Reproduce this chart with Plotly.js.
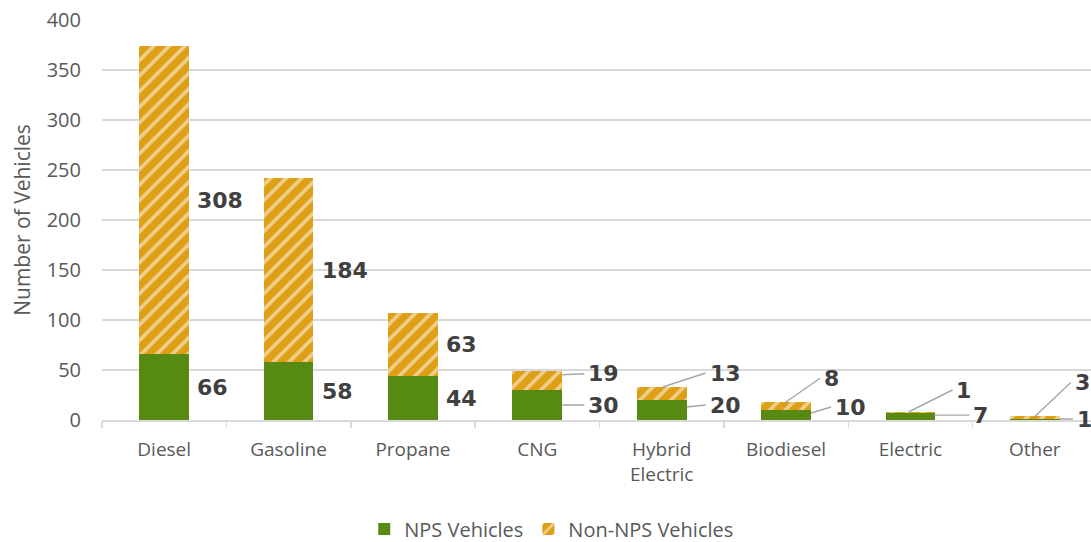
<!DOCTYPE html>
<html>
<head>
<meta charset="utf-8">
<script src="https://cdn.plot.ly/plotly-3.0.1.min.js"></script>
<style>
html,body{margin:0;padding:0;overflow:hidden;background:#fff;}
#chart{width:1097px;height:542px;}
</style>
</head>
<body>
<div id="chart"></div>
<script>
// ---- data ----
const categories = ['Diesel', 'Gasoline', 'Propane', 'CNG', 'Hybrid<br>Electric', 'Biodiesel', 'Electric', 'Other'];
const npsVehicles = [66, 58, 44, 30, 20, 10, 7, 1];
const nonNpsVehicles = [308, 184, 63, 19, 13, 8, 1, 3];
const seriesNames = ['NPS Vehicles', 'Non-NPS Vehicles'];
const yTicks = [0, 50, 100, 150, 200, 250, 300, 350, 400];

// ---- styling ----
const GREEN = '#568A12';
const ORANGE = '#DE9E16';
const GRID = '#D9D9D9';
const TXT = '#595959';
const LBL = '#404040';
const labelFont = {family: 'DejaVu Sans, sans-serif', size: 22, color: LBL, weight: 'bold'};

// leader-line placement for the small labels (pixel offsets only)
// key: categoryIndex + '-' + series (0 = NPS, 1 = Non-NPS)
const leaders = {
  '3-1': {tipFrac: 0.8, tipShift: 25, ax: 22, ay: -1},
  '3-0': {tipFrac: 0.5, tipShift: 25, ax: 22, ay: 0},
  '4-1': {tipFrac: 1.0, tipShift: 1, ax: 43, ay: -14},
  '4-0': {tipFrac: 0.65, tipShift: 25, ax: 19, ay: -2},
  '5-1': {tipFrac: 0.85, tipShift: -2, ax: 36, ay: -25},
  '5-0': {tipFrac: 0.7, tipShift: 25, ax: 20, ay: -6},
  '6-1': {tipFrac: 1.0, tipShift: -2, ax: 44, ay: -22},
  '6-0': {tipFrac: 0.7, tipShift: 24, ax: 35, ay: 0},
  '7-1': {tipFrac: 0.8, tipShift: 0, ax: 36, ay: -34},
  '7-0': {tipFrac: 1.0, tipShift: 25, ax: 13, ay: 0}
};

const traces = [
  {
    type: 'bar', name: seriesNames[0], x: categories, y: npsVehicles,
    marker: {color: GREEN, line: {width: 0}},
    hoverinfo: 'skip'
  },
  {
    type: 'bar', name: seriesNames[1], x: categories, y: nonNpsVehicles,
    marker: {color: ORANGE, line: {width: 0},
      pattern: {shape: '/', fgcolor: '#FFFFFF', bgcolor: ORANGE, size: 11, solidity: 0.33, fillmode: 'overlay'}},
    hoverinfo: 'skip'
  }
];

const annotations = [];
categories.forEach((c, i) => {
  const segs = [
    {base: 0, v: npsVehicles[i]},
    {base: npsVehicles[i], v: nonNpsVehicles[i]}
  ];
  segs.forEach((s, k) => {
    const key = i + '-' + k;
    const L = leaders[key];
    if (L) {
      annotations.push({
        x: c, y: s.base + s.v * L.tipFrac, xref: 'x', yref: 'y',
        xshift: L.tipShift,
        text: String(s.v), font: labelFont,
        showarrow: true, arrowhead: 0, arrowwidth: 1.4, arrowcolor: '#A6A6A6',
        ax: L.ax, ay: L.ay, xanchor: 'left', yanchor: 'middle', borderpad: 3
      });
    } else {
      annotations.push({
        x: c, y: s.base + s.v / 2, xref: 'x', yref: 'y',
        xshift: 31, xanchor: 'left', yanchor: 'middle',
        text: String(s.v), font: labelFont, showarrow: false
      });
    }
  });
});

const layout = {
  width: 1097, height: 542,
  margin: {l: 102, r: 0, t: 20, b: 122},
  barmode: 'stack', bargap: 0.6,
  paper_bgcolor: '#FFFFFF', plot_bgcolor: '#FFFFFF',
  font: {family: 'Open Sans, sans-serif', color: TXT, size: 19},
  xaxis: {
    type: 'category', showgrid: false, showline: true, linecolor: GRID, linewidth: 1.5,
    ticks: 'outside', tickson: 'boundaries', ticklen: 6, tickcolor: GRID, tickwidth: 1.5,
    ticklabelstandoff: 12,
    tickfont: {size: 19, color: TXT}, fixedrange: true, automargin: false
  },
  yaxis: {
    range: [0, 400], tickvals: yTicks, showgrid: true, gridcolor: GRID, gridwidth: 1.5,
    zeroline: false, showline: false, ticks: '', ticklabelstandoff: 20,
    tickfont: {size: 20, color: TXT},
    title: {text: 'Number of Vehicles', font: {size: 21, color: TXT}, standoff: 10},
    fixedrange: true, automargin: false
  },
  legend: {
    orientation: 'h', x: 0.452, xanchor: 'center', xref: 'paper',
    y: 13 / 542, yanchor: 'middle', yref: 'container',
    font: {size: 20, color: TXT}, traceorder: 'normal', itemwidth: 30
  },
  showlegend: true,
  annotations: annotations
};

Plotly.newPlot('chart', traces, layout, {displayModeBar: false, staticPlot: true});
</script>
</body>
</html>
